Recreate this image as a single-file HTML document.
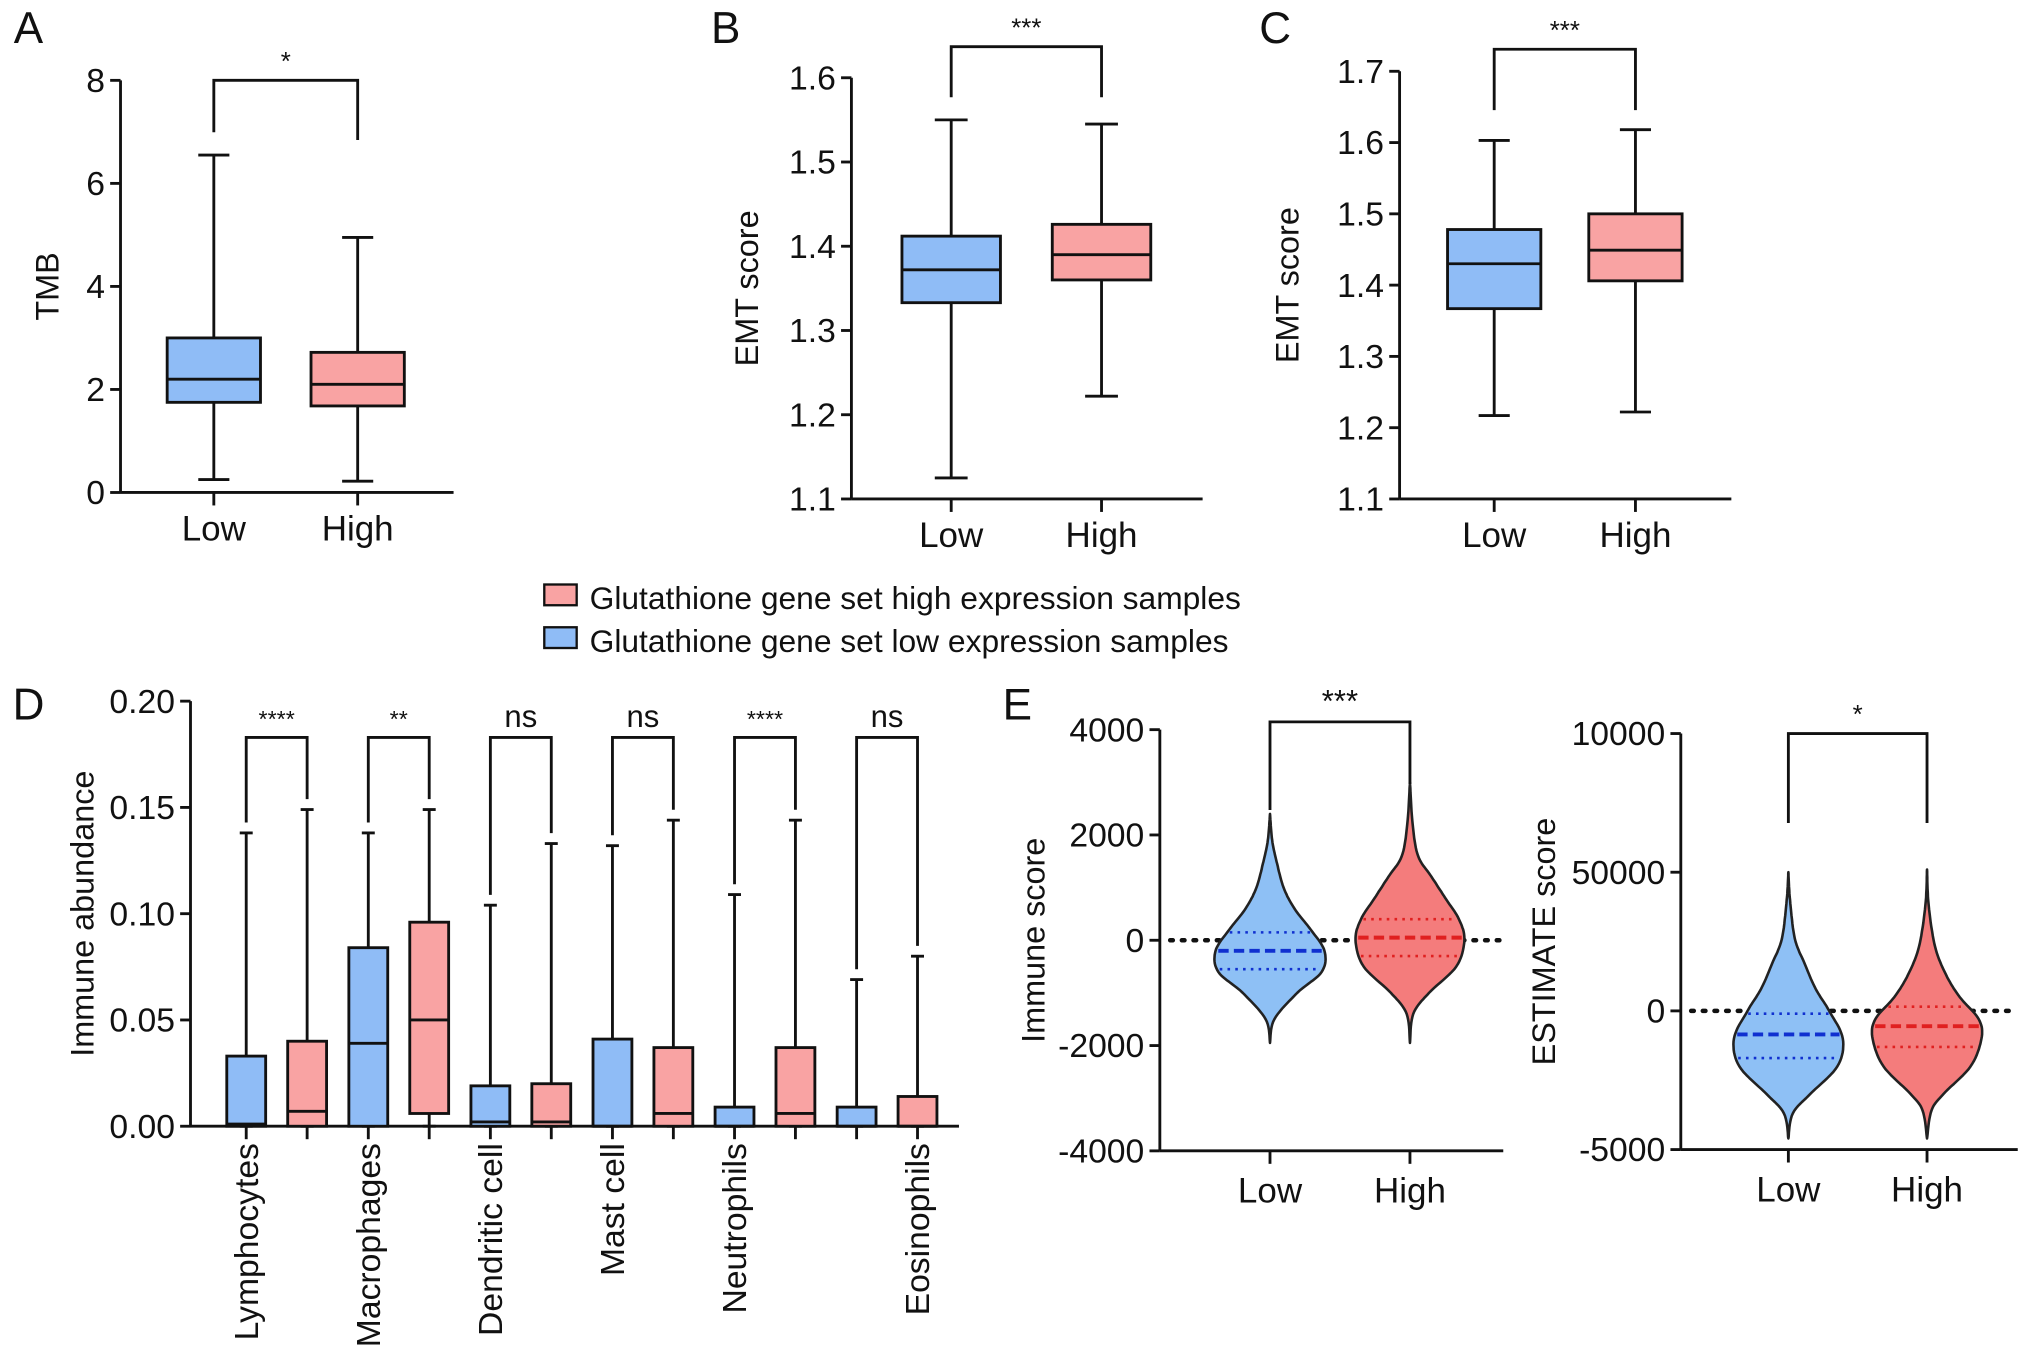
<!DOCTYPE html>
<html><head><meta charset="utf-8"><style>
html,body{margin:0;padding:0;background:#fff}
svg{display:block}
text{font-family:"Liberation Sans",sans-serif;fill:#111}
</style></head><body>
<svg id="fig" width="2032" height="1366" viewBox="0 0 1568 1054" preserveAspectRatio="none" xmlns="http://www.w3.org/2000/svg"></svg>
<script>
// ---- DATA ----
const groupLabels = ["Low","High"];
// Panel A (TMB): [min,q1,median,q3,max]
const tmbLow = [0.25,1.75,2.2,3.0,6.55];
const tmbHigh = [0.22,1.68,2.1,2.72,4.95];
const tmbTicks = [0,2,4,6,8];
// Panel B (EMT)
const emtBLow = [1.125,1.333,1.372,1.412,1.55];
const emtBHigh = [1.222,1.36,1.39,1.426,1.545];
const emtBTicks = [1.1,1.2,1.3,1.4,1.5,1.6];
// Panel C (EMT)
const emtCLow = [1.217,1.367,1.43,1.478,1.603];
const emtCHigh = [1.222,1.406,1.449,1.5,1.618];
const emtCTicks = [1.1,1.2,1.3,1.4,1.5,1.6,1.7];
// Panel D (immune abundance)
const cellTypes = ["Lymphocytes","Macrophages","Dendritic cell","Mast cell","Neutrophils","Eosinophils"];
const cellSig = ["****","**","ns","ns","****","ns"];
const immLow = [[0,0,0.001,0.033,0.138],[0,0,0.039,0.084,0.138],[0,0,0.002,0.019,0.104],[0,0,0,0.041,0.132],[0,0,0,0.009,0.109],[0,0,0,0.009,0.069]];
const immHigh = [[0,0,0.007,0.040,0.149],[0,0.006,0.050,0.096,0.149],[0,0,0.002,0.020,0.133],[0,0,0.006,0.037,0.144],[0,0,0.006,0.037,0.144],[0,0,0,0.014,0.080]];
const immTicks = [0,0.05,0.10,0.15,0.20];
// Panel E violins: y values and relative densities
const isLowY = [-1950,-1500,-1000,-600,-200,200,600,1000,1500,1900,2400];
const isLowD = [0,0.08,0.5,0.95,1.0,0.75,0.45,0.25,0.12,0.04,0];
const isLowStats = [-550,-200,150];
const isHighY = [-1950,-1400,-1000,-500,0,400,800,1200,1600,2200,3000];
const isHighD = [0,0.06,0.35,0.85,1.0,0.9,0.65,0.4,0.15,0.05,0];
const isHighStats = [-300,50,400];
const isTicks = [-4000,-2000,0,2000,4000];
const esLowY = [-4600,-3700,-3000,-2000,-1000,0,800,1700,2600,4000,5000];
const esLowD = [0,0.08,0.4,0.9,1.0,0.75,0.5,0.3,0.12,0.03,0];
const esLowStats = [-1700,-850,-100];
const esHighY = [-4600,-3600,-3000,-2000,-1000,-300,500,1300,2300,3800,5100];
const esHighD = [0,0.08,0.3,0.8,1.0,0.95,0.6,0.35,0.15,0.03,0];
const esHighStats = [-1300,-550,150];
const esTickVals = [-5000,0,5000,10000];
const esTickLabels = ["-5000","0","50000","10000"];

const S = document.getElementById('fig');
const NS = "http://www.w3.org/2000/svg";
function el(tag, attrs, parent){const e=document.createElementNS(NS,tag);for(const k in attrs)e.setAttribute(k,attrs[k]);(parent||S).appendChild(e);return e;}
function txt(x,y,s,size,anchor,parent,rot){const t=el('text',{x:x,y:y,'font-size':size,'text-anchor':anchor||'middle'},parent);if(rot)t.setAttribute('transform',`rotate(${rot} ${x} ${y})`);t.textContent=s;return t;}
function lin(d0,d1,r0,r1){return v=>r0+(v-d0)/(d1-d0)*(r1-r0);}
const BLUE="#8fbcf6", PINK="#f9a3a3", LW=2.2;

function yAxis(g,x,y,ticks,labels,size){
  el('line',{x1:x,y1:y(ticks[0]),x2:x,y2:y(ticks[ticks.length-1]),stroke:'#111','stroke-width':LW},g);
  ticks.forEach((t,i)=>{el('line',{x1:x-8,y1:y(t),x2:x,y2:y(t),stroke:'#111','stroke-width':LW},g);
    txt(x-12,y(t)+9,labels?labels[i]:String(t),size||26,'end',g);});
}
function box(g,cx,w,s,y,fill){
  el('line',{x1:cx,y1:y(s[0]),x2:cx,y2:y(s[4]),stroke:'#111','stroke-width':LW},g);
  el('line',{x1:cx-w/6,y1:y(s[0]),x2:cx+w/6,y2:y(s[0]),stroke:'#111','stroke-width':LW},g);
  el('line',{x1:cx-w/6,y1:y(s[4]),x2:cx+w/6,y2:y(s[4]),stroke:'#111','stroke-width':LW},g);
  el('rect',{x:cx-w/2,y:y(s[3]),width:w,height:Math.max(0.5,y(s[1])-y(s[3])),fill:fill,stroke:'#111','stroke-width':LW},g);
  el('line',{x1:cx-w/2,y1:y(s[2]),x2:cx+w/2,y2:y(s[2]),stroke:'#111','stroke-width':LW},g);
}
function bracket(g,x1,x2,yt,yl,yr,label,size){
  el('polyline',{points:`${x1},${yl} ${x1},${yt} ${x2},${yt} ${x2},${yr}`,fill:'none',stroke:'#111','stroke-width':LW},g);
  txt((x1+x2)/2,yt-8,label,size||20,'middle',g);
}
function boxPanel(name,ax,ytop,ybot,dom,ticks,xend,xs,w,lo,hi,yl,br,title,letter,lx,ly){
  const g=el('g',{});  
  const y=lin(dom[0],dom[1],ybot,ytop);
  yAxis(g,ax,y,ticks,ticks.map(t=>String(t)));
  el('line',{x1:ax,y1:ybot,x2:xend,y2:ybot,stroke:'#111','stroke-width':LW},g);
  xs.forEach((x,i)=>{el('line',{x1:x,y1:ybot,x2:x,y2:ybot+10,stroke:'#111','stroke-width':LW},g);txt(x,ybot+37,groupLabels[i],27,'middle',g);});
  const b1=el('g',{},g);   box(b1,xs[0],w,lo,y,BLUE);
  const b2=el('g',{},g);   box(b2,xs[1],w,hi,y,PINK);
  bracket(g,xs[0],xs[1],br[0],br[1],br[2],br[3],20);
  const t=txt(yl,(ytop+ybot)/2,title,25,'middle',g,-90); 
  txt(lx,ly,letter,34,'middle',S);
}
boxPanel('panel-a-tmb',93,62,380,[0,8],tmbTicks,350,[165,276],72,tmbLow,tmbHigh,45,[62,102,108,'*'],'TMB','A',22,33);
boxPanel('panel-b-emt',657,60,385,[1.1,1.6],emtBTicks,928,[734,850],76,emtBLow,emtBHigh,585,[36,75,75,'***'],'EMT score','B',560,33);
boxPanel('panel-c-emt',1080,55,385,[1.1,1.7],emtCTicks,1336,[1153,1262],72,emtCLow,emtCHigh,1002,[38,85,85,'***'],'EMT score','C',984,33);

// legend
const lg=el('g',{});  
const le1=el('g',{},lg);  
el('rect',{x:420,y:451,width:25,height:16,fill:PINK,stroke:'#111','stroke-width':1.8},le1); txt(455,470,'Glutathione gene set high expression samples',24.5,'start',le1);
const le2=el('g',{},lg);  
el('rect',{x:420,y:484,width:25,height:16,fill:BLUE,stroke:'#111','stroke-width':1.8},le2); txt(455,503,'Glutathione gene set low expression samples',24.5,'start',le2);

// Panel D
(function(){
  const g=el('g',{});  
  const y=lin(0,0.2,869,541);
  yAxis(g,147,y,immTicks,immTicks.map(t=>t.toFixed(2)));
  el('line',{x1:147,y1:869,x2:740,y2:869,stroke:'#111','stroke-width':LW},g);
  const x0=190, step=94.2, dx=47;
  cellTypes.forEach((c,i)=>{
    const xl=x0+i*step, xh=xl+dx;
    [xl,xh].forEach(x=>el('line',{x1:x,y1:869,x2:x,y2:879,stroke:'#111','stroke-width':LW},g));
    const bl=el('g',{},g);  
    box(bl,xl,30,immLow[i],y,BLUE);
    const bh=el('g',{},g);  
    box(bh,xh,30,immHigh[i],y,PINK);
    const ns=cellSig[i]==='ns';
    bracket(g,xl,xh,569,y(immLow[i][4])-8,y(immHigh[i][4])-8,cellSig[i],ns?24:18);
    const lx=(i===cellTypes.length-1?xh:xl)+9;
    txt(lx,882,c,26,'end',g,-90);
  });
  const t=txt(72,705,'Immune abundance',25,'middle',g,-90); 
  txt(22,555,'D',34,'middle',S);
})();

// Panel E violins
function violinPanel(name,ax,ytop,ybot,dom,tv,tl,xend,xs,vl,vh,br,title,tx){
  const g=el('g',{});  
  const y=lin(dom[0],dom[1],ybot,ytop);
  yAxis(g,ax,y,tv,tl);
  el('line',{x1:ax,y1:ybot,x2:xend,y2:ybot,stroke:'#111','stroke-width':LW},g);
  el('line',{x1:ax+8,y1:y(0),x2:xend,y2:y(0),stroke:'#111','stroke-width':3.5,'stroke-dasharray':'2 7','stroke-linecap':'round'},g);
  xs.forEach((x,i)=>{el('line',{x1:x,y1:ybot,x2:x,y2:ybot+10,stroke:'#111','stroke-width':LW},g);txt(x,ybot+40,groupLabels[i],27,'middle',g);});
  [vl,vh].forEach((v,i)=>{
    const cx=xs[i], hw=42, ys=v[0], ds=v[1], st=v[2];
    const vg=el('g',{},g);  
    // smooth density via Catmull-Rom sampling
    const n=ys.length, samp=[];
    for(let k=0;k<n-1;k++){
      const p0=k>0?k-1:k, p3=k+2<n?k+2:k+1;
      for(let s=0;s<10;s++){const t=s/10,t2=t*t,t3=t2*t;
        const f=(a,b,c,d)=>0.5*((2*b)+(-a+c)*t+(2*a-5*b+4*c-d)*t2+(-a+3*b-3*c+d)*t3);
        samp.push([f(ys[p0],ys[k],ys[k+1],ys[p3]),Math.max(0,f(ds[p0],ds[k],ds[k+1],ds[p3]))]);}
    }
    samp.push([ys[n-1],ds[n-1]]);
    const right=samp.map(p=>(cx+p[1]*hw).toFixed(1)+','+y(p[0]).toFixed(1));
    const left=samp.slice().reverse().map(p=>(cx-p[1]*hw).toFixed(1)+','+y(p[0]).toFixed(1));
    el('path',{d:'M'+right.concat(left).join(' L')+'Z',fill:i?'#f47c7c':'#8ec0f5',stroke:'#222','stroke-width':2,'stroke-linejoin':'round'},vg);
    const col=i?'#e02020':'#1030d0';
    const dens=val=>{let best=samp[0];samp.forEach(p=>{if(Math.abs(p[0]-val)<Math.abs(best[0]-val))best=p;});return best[1];};
    st.forEach((sv,k)=>{const w=dens(sv)*hw*0.95;el('line',{x1:cx-w,y1:y(sv),x2:cx+w,y2:y(sv),stroke:col,'stroke-width':k==1?3:2,'stroke-dasharray':k==1?'8 4':'2 4'},vg);});
  });
  bracket(g,xs[0],xs[1],br[0],br[1],br[2],br[3],br[4]);
  const t=txt(tx,(ytop+ybot)/2,title,25,'middle',g,-90); 
}
violinPanel('panel-e-immune-score',895,563,888,[-4000,4000],isTicks,isTicks.map(String),1160,[980,1088],[isLowY,isLowD,isLowStats],[isHighY,isHighD,isHighStats],[557,625,605,'***',24],'Immune score',806);
violinPanel('panel-e-estimate-score',1297,566,887,[-5000,10000],esTickVals,esTickLabels,1557,[1380,1487],[esLowY,esLowD,esLowStats],[esHighY,esHighD,esHighStats],[566,635,635,'*',20],'ESTIMATE score',1200);
txt(785,555,'E',34,'middle',S);
</script>
</body></html>
